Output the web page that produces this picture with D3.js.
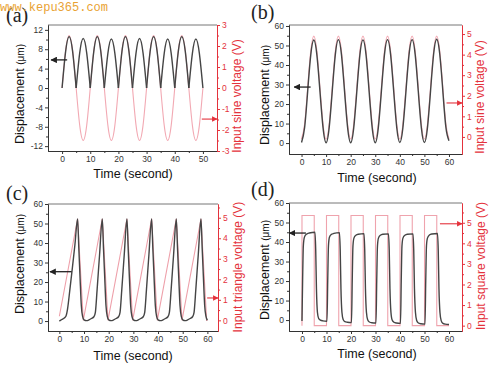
<!DOCTYPE html>
<html><head><meta charset="utf-8">
<script src="https://cdn.jsdelivr.net/npm/d3@7"></script>
<style>body{margin:0;background:#fff}</style>
</head><body><svg id="c" width="500" height="375"></svg>
<script>
// ---------- DATA ----------
// (a) sine input, rectified-like displacement
const aTime = [0,1.25,2.5,3.75,5,6.25,7.5,8.75,10,11.25,12.5,13.75,15,16.25,17.5,18.75,20,21.25,22.5,23.75,25,26.25,27.5,28.75,30,31.25,32.5,33.75,35,36.25,37.5,38.75,40,41.25,42.5,43.75,45,46.25,47.5,48.75,50];
const aDisp = [0, 7.5,10.6,7.5,0, 7.2,10.2,7.2,0, 7.5,10.6,7.5,0, 7.1,10.1,7.1,0, 7.5,10.6,7.5,0, 7.2,10.2,7.2,0, 7.5,10.6,7.5,0, 7.1,10.1,7.1,0, 7.5,10.6,7.5,0, 7.1,10.1,7.1,0];
const aVolt = [0, 1.77,2.5,1.77,0,-1.77,-2.5,-1.77, 0,1.77,2.5,1.77,0,-1.77,-2.5,-1.77, 0,1.77,2.5,1.77,0,-1.77,-2.5,-1.77, 0,1.77,2.5,1.77,0,-1.77,-2.5,-1.77, 0,1.77,2.5,1.77,0,-1.77,-2.5,-1.77, 0];

// (b) sine input 0..5 V
const bTime = [0,1.25,2.5,3.75,5,6.25,7.5,8.75,10,11.25,12.5,13.75,15,16.25,17.5,18.75,20,21.25,22.5,23.75,25,26.25,27.5,28.75,30,31.25,32.5,33.75,35,36.25,37.5,38.75,40,41.25,42.5,43.75,45,46.25,47.5,48.75,50,51.25,52.5,53.75,55,56.25,57.5,58.75,60];
const bDisp = [0.3,7.9,26.5,45.1,52.8,45.1,26.5,7.9, 0.2,7.9,26.6,45.3,53.0,45.3,26.6,7.9, 0.2,7.9,26.5,45.2,52.9,45.2,26.5,7.9, 0.2,7.9,26.6,45.3,53.0,45.3,26.6,7.9, 0.3,7.9,26.6,45.3,53.0,45.3,26.6,7.9, 0.3,7.9,26.7,45.5,53.2,45.5,26.7,8.0, 1.2];
const bVolt = [-0.1,0.63,2.4,4.17,4.9,4.17,2.4,0.63, -0.1,0.63,2.4,4.17,4.9,4.17,2.4,0.63, -0.1,0.63,2.4,4.17,4.9,4.17,2.4,0.63, -0.1,0.63,2.4,4.17,4.9,4.17,2.4,0.63, -0.1,0.63,2.4,4.17,4.9,4.17,2.4,0.63, -0.1,0.63,2.4,4.17,4.9,4.17,2.4,0.63, -0.1];

// (c) triangle input
const cTimeV = [0,7.4,9.7,17.4,19.7,27.4,29.7,37.4,39.7,47.4,49.7,57.4,59.7,60];
const cVolt  = [0.2,4.95,0,4.95,0,4.95,0,4.95,0,4.95,0,4.95,0,0];
const cTimeD = [0,1,2,2.7,3.3,4.3,5.3,6.3,7.4,
  7.9,8.4,8.9,9.4,10,11,12,13,14,14.6,15.3,16.3,17.4,
  17.9,18.4,18.9,19.4,20,21,22,23,24,24.6,25.3,26.3,27.4,
  27.9,28.4,28.9,29.4,30,31,32,33,34,34.6,35.3,36.3,37.4,
  37.9,38.4,38.9,39.4,40,41,42,43,44,44.6,45.3,46.3,47.4,
  47.9,48.4,48.9,49.4,50,51,52,53,54,54.6,55.3,56.3,57.4,
  57.9,58.4,58.9,59.4,60];
const cDisp = [0,0.8,1.6,2.6,6,16.5,27.5,39,52.3,
  37,22,8,2.5,0.6,0.2,0.6,1.3,2.2,4.5,16,34,52.3,
  37,22,8,2.5,0.6,0.2,0.6,1.3,2.2,4.5,16,34,52.3,
  37,22,8,2.5,0.6,0.2,0.6,1.3,2.2,4.5,16,34,52.3,
  37,22,8,2.5,0.6,0.2,0.6,1.3,2.2,4.5,16,34,52.3,
  37,22,8,2.5,0.6,0.2,0.6,1.3,2.2,4.5,16,34,52.3,
  37,22,8,2.5,0.4];

// (d) square input
const dTimeV = [0,0,5,10,15,20,25,30,35,40,45,50,55,60];
const dVolt  = [0,5.35,0,5.35,0,5.35,0,5.35,0,5.35,0,5.35,0,0];
const dTimeD = [0,0.25,0.55,1,1.8,3,5.3,5.6,5.9,6.3,6.8,7.5,8.5,10.2,
  10.5,10.8,11.2,12,13,15.3,15.6,15.9,16.3,16.8,17.5,18.5,20.2,
  20.5,20.8,21.2,22,23,25.3,25.6,25.9,26.3,26.8,27.5,28.5,30.2,
  30.5,30.8,31.2,32,33,35.3,35.6,35.9,36.3,36.8,37.5,38.5,40.2,
  40.5,40.8,41.2,42,43,45.3,45.6,45.9,46.3,46.8,47.5,48.5,50.2,
  50.5,50.8,51.2,52,53,55.3,55.6,55.9,56.3,56.8,57.5,58.5,60];
const dDisp = [-0.5,20,38,42.5,44,44.6,45,36,16,4,0.8,0,-0.4,-0.6,
  20,38,42.5,43.9,44.4,44.8,36,16,4,0.3,-0.8,-1.1,-1.3,
  20,38,42,43.5,44,44.3,36,16,4,0.2,-1,-1.4,-1.5,
  20,38,42,43.5,44,44.2,36,16,4,0,-1.1,-1.5,-1.7,
  20,38,42,43.5,44,44.2,36,16,4,-0.2,-1.5,-1.9,-2.1,
  20,38,42,43.6,44.1,44.4,36,16,4,-0.3,-1.7,-2.1,-2.3];

// tick values
const ticksA_x = [0,10,20,30,40,50];
const ticksA_L = [-12,-8,-4,0,4,8,12];
const ticksA_R = [-3,-2,-1,0,1,2,3];
const ticks60_x = [0,10,20,30,40,50,60];
const ticks60_L = [0,10,20,30,40,50,60];
const ticks5_R = [0,1,2,3,4,5];

// ---------- DRAW ----------
const svg = d3.select("#c");
svg.append("rect").attr("width",500).attr("height",375).attr("fill","#fff");

const RED = "#e4323c", PINK = "#f2a9b3", DARK = "#454545", AX = "#333";
const FONT = "'Liberation Sans', Arial, sans-serif";

const defs = svg.append("defs");
function marker(id, col) {
  defs.append("marker").attr("id", id).attr("viewBox","0 0 10 10").attr("refX",9).attr("refY",5)
    .attr("markerWidth",5).attr("markerHeight",5).attr("orient","auto-start-reverse")
    .append("path").attr("d","M0,0L10,5L0,10z").attr("fill", col);
}
marker("ab", "#222"); marker("ar", RED);

function range(a, b, s) { return d3.range(a, b + s/2, s); }

function panel(c) {
  const x = d3.scaleLinear().domain(c.xDomain).range([c.x0, c.x1]);
  const yL = d3.scaleLinear().domain(c.yLDomain).range([c.y1, c.y0]);
  const yR = d3.scaleLinear().domain(c.yRDomain).range([c.y1, c.y0]);
  const g = svg.append("g");

  // top frame
  g.append("line").attr("x1", c.x0).attr("x2", c.x1).attr("y1", c.y0).attr("y2", c.y0)
    .attr("stroke", "#777").attr("stroke-width", 1);

  // red (voltage) curve
  const rPts = c.rT.map((t, i) => [t, c.rV[i]]);
  g.append("path").datum(rPts)
    .attr("d", d3.line().x(d => x(d[0])).y(d => yR(d[1])).curve(c.rCurve))
    .attr("fill", "none").attr("stroke", c.pink || PINK).attr("stroke-width", 1.1);

  // black (displacement) curve
  const bPts = c.bT.map((t, i) => [t, c.bV[i]]);
  const segs = [];
  if (c.split) {
    let cur = [];
    bPts.forEach((p, i) => {
      cur.push(p);
      if (p[1] === 0 && i > 0 && i < bPts.length - 1) { segs.push(cur); cur = [p]; }
    });
    segs.push(cur);
  } else segs.push(bPts);
  segs.forEach(s => {
    g.append("path").datum(s)
      .attr("d", d3.line().x(d => x(d[0])).y(d => yL(d[1])).curve(c.bCurve))
      .attr("fill", "none").attr("stroke", DARK).attr("stroke-width", 1.4);
  });

  const fmt = d => String(d);
  function styleAxis(sel, col) {
    sel.select(".domain").attr("stroke", col).attr("stroke-width", 1);
    sel.selectAll(".tick line").attr("stroke", col);
    sel.selectAll(".tick text").attr("fill", col).attr("font-size", "8.5px").attr("font-family", FONT);
  }
  // bottom
  const xb = g.append("g").attr("transform", `translate(0,${c.y1})`)
    .call(d3.axisBottom(x).tickValues(c.xTicks).tickSize(3).tickSizeOuter(0).tickPadding(2).tickFormat(fmt));
  styleAxis(xb, AX);
  const xm = g.append("g").attr("transform", `translate(0,${c.y1})`)
    .call(d3.axisBottom(x).tickValues(c.xMinor).tickSize(2).tickSizeOuter(0).tickFormat(""));
  styleAxis(xm, AX);
  // left
  const yl = g.append("g").attr("transform", `translate(${c.x0},0)`)
    .call(d3.axisLeft(yL).tickValues(c.yLTicks).tickSize(3).tickSizeOuter(0).tickPadding(2).tickFormat(fmt));
  styleAxis(yl, AX);
  const ylm = g.append("g").attr("transform", `translate(${c.x0},0)`)
    .call(d3.axisLeft(yL).tickValues(c.yLMinor).tickSize(2).tickSizeOuter(0).tickFormat(""));
  styleAxis(ylm, AX);
  // right
  const yr = g.append("g").attr("transform", `translate(${c.x1},0)`)
    .call(d3.axisRight(yR).tickValues(c.yRTicks).tickSize(3).tickSizeOuter(0).tickPadding(2).tickFormat(fmt));
  styleAxis(yr, RED);
  const yrm = g.append("g").attr("transform", `translate(${c.x1},0)`)
    .call(d3.axisRight(yR).tickValues(c.yRMinor).tickSize(2).tickSizeOuter(0).tickFormat(""));
  styleAxis(yrm, RED);

  // titles
  g.append("text").attr("x", c.xtX).attr("y", c.xtY).attr("text-anchor", "middle")
    .attr("font-family", FONT).attr("font-size", "12.5px").attr("fill", "#111").text("Time (second)");
  const lt = g.append("text").attr("transform", `translate(${c.ltX},${c.ltY}) rotate(-90)`)
    .attr("text-anchor", "middle").attr("font-family", FONT).attr("font-size", "12.5px").attr("fill", "#111");
  lt.append("tspan").text("Displacement ");
  lt.append("tspan").attr("font-size", "10px").text("(μm)");
  g.append("text").attr("transform", `translate(${c.rtX},${c.rtY}) rotate(-90)`)
    .attr("text-anchor", "middle").attr("font-family", FONT).attr("font-size", "12px").attr("fill", RED)
    .text(c.rTitle);

  // panel letter
  g.append("text").attr("x", c.lx).attr("y", c.ly).attr("font-family", "'Liberation Serif', 'Times New Roman', serif")
    .attr("font-size", "20px").attr("fill", "#222").text(c.letter);

  // arrows
  g.append("line").attr("x1", x(c.bArrow[0])).attr("x2", x(c.bArrow[1]))
    .attr("y1", yL(c.bArrow[2])).attr("y2", yL(c.bArrow[2]))
    .attr("stroke", "#222").attr("stroke-width", 1.3).attr("marker-end", "url(#ab)");
  g.append("line").attr("x1", x(c.rArrow[0])).attr("x2", x(c.rArrow[1]))
    .attr("y1", yR(c.rArrow[2])).attr("y2", yR(c.rArrow[2]))
    .attr("stroke", RED).attr("stroke-width", 1.1).attr("marker-end", "url(#ar)");
}

panel({
  letter: "(a)", lx: 6, ly: 22,
  x0: 48, x1: 217, y0: 25, y1: 151,
  xDomain: [-5, 55], yLDomain: [-13, 13], yRDomain: [-3, 3],
  xTicks: ticksA_x, xMinor: range(5, 45, 10),
  yLTicks: ticksA_L, yLMinor: range(-10, 10, 4),
  yRTicks: ticksA_R, yRMinor: range(-2.5, 2.5, 1),
  rT: aTime, rV: aVolt, rCurve: d3.curveNatural,
  bT: aTime, bV: aDisp, bCurve: d3.curveNatural, split: true,
  xtX: 133, xtY: 178, ltX: 24, ltY: 94, rtX: 241, rtY: 96,
  rTitle: "Input sine voltage (V)",
  bArrow: [1.8, -3.9, 5.8], rArrow: [49.6, 55, -1.48]
});

panel({
  letter: "(b)", lx: 251, ly: 19,
  x0: 289, x1: 462, y0: 25, y1: 154,
  xDomain: [-5.1, 65.3], yLDomain: [-5.6, 60.5], yRDomain: [-0.83, 5.44],
  xTicks: ticks60_x, xMinor: range(5, 55, 10),
  yLTicks: ticks60_L, yLMinor: range(5, 55, 10),
  yRTicks: ticks5_R, yRMinor: range(0.5, 4.5, 1),
  rT: bTime, rV: bVolt, rCurve: d3.curveNatural,
  bT: bTime, bV: bDisp, bCurve: d3.curveNatural,
  xtX: 377, xtY: 182, ltX: 269, ltY: 95, rtX: 484, rtY: 97,
  rTitle: "Input sine voltage (V)",
  bArrow: [3.7, -3, 28.7], rArrow: [59, 65.3, 1.65]
});

panel({
  letter: "(c)", lx: 6, ly: 200,
  x0: 48, x1: 218, y0: 204, y1: 331,
  xDomain: [-4.6, 64.3], yLDomain: [-5.1, 60], yRDomain: [-0.52, 5.67],
  xTicks: ticks60_x, xMinor: range(5, 55, 10),
  yLTicks: ticks60_L, yLMinor: range(5, 55, 10),
  yRTicks: ticks5_R, yRMinor: range(0.5, 5.5, 1),
  rT: cTimeV, rV: cVolt, rCurve: d3.curveLinear, pink: "#eea0aa",
  bT: cTimeD, bV: cDisp, bCurve: d3.curveMonotoneX,
  xtX: 133, xtY: 360, ltX: 24, ltY: 264, rtX: 242, rtY: 267,
  rTitle: "Input triangle voltage (V)",
  bArrow: [5.0, -3.8, 25.3], rArrow: [59.9, 64.3, 1.09]
});

panel({
  letter: "(d)", lx: 251, ly: 196,
  x0: 289, x1: 462, y0: 203, y1: 331,
  xDomain: [-5.3, 65.3], yLDomain: [-5.6, 60], yRDomain: [-0.26, 5.96],
  xTicks: ticks60_x, xMinor: range(5, 55, 10),
  yLTicks: ticks60_L, yLMinor: range(5, 55, 10),
  yRTicks: ticks5_R, yRMinor: range(0.5, 5.5, 1),
  rT: dTimeV, rV: dVolt, rCurve: d3.curveStepAfter, pink: "#efa3ad",
  bT: dTimeD, bV: dDisp, bCurve: d3.curveMonotoneX,
  xtX: 377, xtY: 358, ltX: 269, ltY: 270, rtX: 485, rtY: 266,
  rTitle: "Input square voltage (V)",
  bArrow: [1.6, -5.1, 44.6], rArrow: [56.3, 65.3, 4.95]
});

// watermark
svg.append("text").attr("x", 0).attr("y", 11).attr("font-family", "'Liberation Mono', 'Courier New', monospace")
  .attr("font-size", "12px").attr("fill", "#e9a233").text("www.kepu365.com");
</script>
</body></html>
